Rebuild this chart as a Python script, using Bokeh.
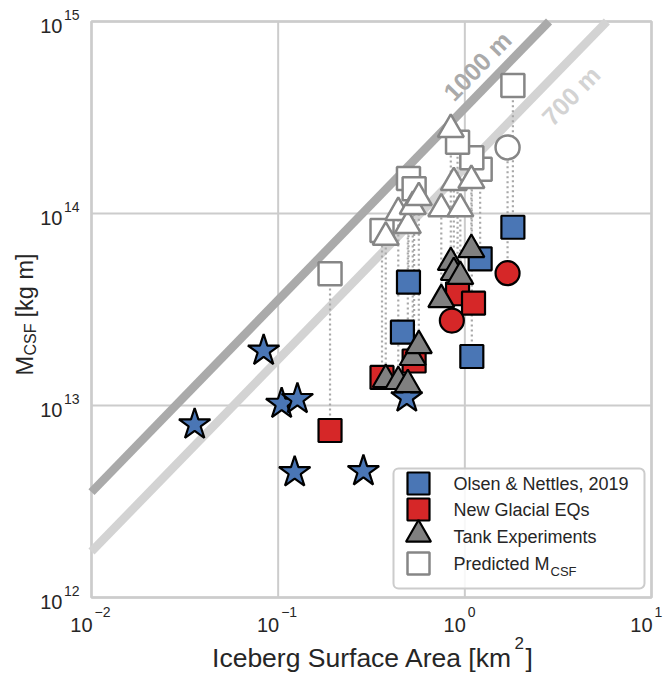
import math
from bokeh.plotting import figure
from bokeh.models import Range1d, LinearScale
from bokeh.core.properties import value
from bokeh.embed import file_html
from bokeh.resources import INLINE

# ---------------- data ----------------
# Olsen & Nettles 2019 – star symbols (no prediction)
star_area = [0.0836, 0.0357, 0.1044, 0.1268, 0.1226, 0.2862, 0.4887]
star_m = [1.93e13, 7.96e12, 1.02e13, 1.08e13, 4.49e12, 4.55e12, 1.10e13]

# Olsen & Nettles 2019 – squares, with predicted M_CSF
on_area = [1.809, 1.208, 0.499, 0.463, 1.090]
on_m = [8.48e13, 5.81e13, 4.39e13, 2.41e13, 1.80e13]
on_pred = [4.64e14, 1.70e14, 1.52e14, None, 1.95e14]

# New glacial earthquakes – squares
eq_area = [0.1896, 0.360, 0.535, 0.914, 1.113]
eq_m = [7.41e12, 1.40e13, 1.705e13, 3.82e13, 3.41e13]
eq_pred = [4.85e13, 8.16e13, 1.345e14, 2.35e14, None]

# New glacial earthquakes – circles
eqc_area = [0.852, 1.694]
eqc_m = [2.77e13, 4.89e13]
eqc_pred = [None, 2.21e14]

# Tank experiments – triangles
tank_area = [0.377, 0.440, 0.495, 0.526, 0.567, 0.748, 0.841, 0.873, 0.946, 1.084]
tank_m = [1.366e13, 1.334e13, 1.286e13, 1.778e13, 2.05e13, 3.56e13, 5.56e13, 4.93e13, 4.70e13, 6.49e13]
tank_pred = [7.53e13, 1.012e14, 8.66e13, 1.088e14, 1.211e14, 1.058e14, 2.74e14, 1.45e14, 1.058e14, 1.486e14]

# reference thickness lines: M = K * A[km2] * (H/1000)^2
heights = [1000, 700]
height_labels = ["1000 m", "700 m"]
K = 3.54e14

x_min, x_max = 1e-2, 1e1
y_min, y_max = 1e12, 1e15
x_ticks = [1e-2, 1e-1, 1e0, 1e1]
x_exps = ["\u22122", "\u22121", "0", "1"]
y_ticks = [1e12, 1e13, 1e14, 1e15]
y_exps = ["12", "13", "14", "15"]

legend_labels = ["Olsen & Nettles, 2019", "New Glacial EQs", "Tank Experiments", "Predicted M"]

# ---------------- style / layout ----------------
FONT = "Liberation Sans"
TXT = "#262626"
BLUE = "#4a76b5"
RED = "#d62728"
GRAYF = "#808080"
PRED_EDGE = "#868686"
DARKLINE = "#aaaaaa"
LIGHTLINE = "#d3d3d3"
SPINE = "#cccccc"

W, H_ = 667, 674
L, R, T, B = 91, 651, 21, 597          # plot box in canvas pixels
DX = (R - L) / math.log10(x_max / x_min)
DY = (B - T) / math.log10(y_max / y_min)

xr = Range1d(x_min * 10 ** (-L / DX), x_max * 10 ** ((W - R) / DX))
yr = Range1d(y_min * 10 ** (-(H_ - B) / DY), y_max * 10 ** (T / DY))

p = figure(width=W, height=H_, x_axis_type="log", y_axis_type="log",
           x_range=xr, y_range=yr, x_axis_location=None, y_axis_location=None,
           output_backend="svg", toolbar_location=None, min_border=0)
p.outline_line_color = None
p.background_fill_color = "white"
p.border_fill_color = "white"
p.xgrid.visible = False
p.ygrid.visible = False

# pixel coordinate system for page furniture (y measured from the top)
p.extra_x_ranges = {"px": Range1d(0, W)}
p.extra_y_ranges = {"px": Range1d(H_, 0)}
p.extra_x_scales = {"px": LinearScale()}
p.extra_y_scales = {"px": LinearScale()}

# grid
p.segment(x0=x_ticks, x1=x_ticks, y0=[y_min] * 4, y1=[y_max] * 4, line_color=SPINE, line_width=2)
p.segment(x0=[x_min] * 4, x1=[x_max] * 4, y0=y_ticks, y1=y_ticks, line_color=SPINE, line_width=2)
p.quad(left=[x_min], right=[x_max], bottom=[y_min], top=[y_max], fill_color=None,
       line_color=SPINE, line_width=2.5)

# thickness lines (clipped to the box)
for Hm, col in zip(heights, [DARKLINE, LIGHTLINE]):
    k = K * (Hm / 1000.0) ** 2
    xa = [x_min, min(x_max, y_max / k)]
    p.line(xa, [k * a for a in xa], line_color=col, line_width=8.5)

ang = math.atan2(DY, DX)
lab_pos = [(1.167, 1.42), (3.70, 0.64)]
for (xa, fac), Hm, lab, col in zip(lab_pos, heights, height_labels, [DARKLINE, LIGHTLINE]):
    p.text(x=[xa], y=[K * xa * (Hm / 1000.0) ** 2 * fac], text=[lab], angle=ang,
           text_align="center", text_baseline="middle", text_color=col,
           text_font=value(FONT), text_font_style="bold", text_font_size="25px")

# dotted connectors
seg_x, seg_y0, seg_y1 = [], [], []
for xs, ys, ps in ((on_area, on_m, on_pred), (eq_area, eq_m, eq_pred),
                   (eqc_area, eqc_m, eqc_pred), (tank_area, tank_m, tank_pred)):
    for a, m, pr in zip(xs, ys, ps):
        if pr is not None:
            seg_x.append(a); seg_y0.append(m); seg_y1.append(pr)
p.segment(x0=seg_x, y0=seg_y0, x1=seg_x, y1=seg_y1, line_color="#a8a8a8",
          line_width=2.2, line_dash="2 3")

def pick(xs, ps):
    return [a for a, q in zip(xs, ps) if q is not None], [q for q in ps if q is not None]

# predicted markers
px_, py_ = pick(on_area + eq_area, on_pred + eq_pred)
p.scatter(px_, py_, marker="square", size=23, fill_color="white", line_color=PRED_EDGE, line_width=2.5)
px_, py_ = pick(eqc_area, eqc_pred)
p.scatter(px_, py_, marker="circle", size=24, fill_color="white", line_color=PRED_EDGE, line_width=2.5)
p.scatter(tank_area, tank_pred, marker="triangle", size=26, fill_color="white",
          line_color=PRED_EDGE, line_width=2.5)

# observed markers
p.scatter(star_area, star_m, marker="star", size=33, fill_color=BLUE, line_color="black", line_width=2.2)
p.scatter(on_area, on_m, marker="square", size=23, fill_color=BLUE, line_color="black", line_width=2.2)
p.scatter(eq_area, eq_m, marker="square", size=23, fill_color=RED, line_color="black", line_width=2.2)
p.scatter(eqc_area, eqc_m, marker="circle", size=24, fill_color=RED, line_color="black", line_width=2.2)
p.scatter(tank_area, tank_m, marker="triangle", size=26, fill_color=GRAYF, line_color="black", line_width=2.2)

# ---------------- legend (canvas pixels) ----------------
PX = dict(x_range_name="px", y_range_name="px")
p.quad(left=[393], right=[644], top=[468], bottom=[588], fill_color="white", fill_alpha=0.85,
       line_color=SPINE, line_width=2, border_radius=5, **PX)
rows = [483, 509, 536, 563]
mx = 418
p.scatter([mx], [rows[0]], marker="square", size=22, fill_color=BLUE, line_color="black",
          line_width=2.2, **PX)
p.scatter([mx], [rows[1]], marker="square", size=22, fill_color=RED, line_color="black",
          line_width=2.2, **PX)
p.scatter([mx], [rows[2] - 2], marker="triangle", size=25, fill_color=GRAYF, line_color="black",
          line_width=2.2, **PX)
p.scatter([mx], [rows[3]], marker="square", size=22, fill_color="white", line_color=PRED_EDGE,
          line_width=2.5, **PX)
p.text(x=[453] * 4, y=rows, text=legend_labels, text_baseline="middle", text_align="left",
       text_color=TXT, text_font=value(FONT), text_font_size="18px", **PX)
p.text(x=[550], y=[rows[3] + 8], text=["CSF"], text_baseline="middle", text_align="left",
       text_color=TXT, text_font=value(FONT), text_font_size="13px", **PX)

# ---------------- tick labels ----------------
BIG, SMALL = 20, 14
def sup_w(s):
    return sum((0.584 if c == "\u2212" else 0.556) for c in s) * SMALL

for t, e in zip(x_ticks, x_exps):
    p.text(x=[t], y=[624], text=["10"], x_offset=1, text_align="right",
           text_baseline="middle", text_color=TXT, text_font=value(FONT),
           text_font_size=f"{BIG}px", y_range_name="px")
    p.text(x=[t], y=[611], text=[e], x_offset=3, text_align="left",
           text_baseline="middle", text_color=TXT, text_font=value(FONT),
           text_font_size=f"{SMALL}px", y_range_name="px")

for t, e in zip(y_ticks, y_exps):
    p.text(x=[79], y=[t * 10 ** (7 / DY)], text=[e], text_align="right",
           text_baseline="middle", text_color=TXT, text_font=value(FONT),
           text_font_size=f"{SMALL}px", x_range_name="px")
    p.text(x=[79 - sup_w(e) - 1.5], y=[t * 10 ** (-4 / DY)], text=["10"], text_align="right",
           text_baseline="middle", text_color=TXT, text_font=value(FONT),
           text_font_size=f"{BIG}px", x_range_name="px")

# ---------------- axis titles ----------------
XT = 26.5
p.text(x=[512], y=[657], text=["Iceberg Surface Area [km"], text_align="right",
       text_baseline="middle", text_color=TXT, text_font=value(FONT),
       text_font_size=f"{XT}px", **PX)
p.text(x=[514], y=[642], text=["2"], text_align="left", text_baseline="middle",
       text_color=TXT, text_font=value(FONT), text_font_size="17px", **PX)
p.text(x=[525], y=[657], text=["]"], text_align="left", text_baseline="middle",
       text_color=TXT, text_font=value(FONT), text_font_size=f"{XT}px", **PX)

YT, YS = 23.5, 16
wM = 0.833 * YT
wC = 2.0 * YS
wS = 0.278 * YT
wK = 2.723 * YT
ystart = 314 + (wM + wC + wS + wK) / 2
bx = 24
p.text(x=[bx], y=[ystart], text=["M"], angle=math.pi / 2, text_align="left",
       text_baseline="middle", text_color=TXT, text_font=value(FONT),
       text_font_size=f"{YT}px", **PX)
p.text(x=[bx + 6], y=[ystart - wM - 0.5], text=["CSF"], angle=math.pi / 2, text_align="left",
       text_baseline="middle", text_color=TXT, text_font=value(FONT),
       text_font_size=f"{YS}px", **PX)
p.text(x=[bx], y=[ystart - wM - wC - wS], text=["[kg m]"], angle=math.pi / 2, text_align="left",
       text_baseline="middle", text_color=TXT, text_font=value(FONT),
       text_font_size=f"{YT}px", **PX)

open("out.html", "w").write(file_html(p, INLINE))
